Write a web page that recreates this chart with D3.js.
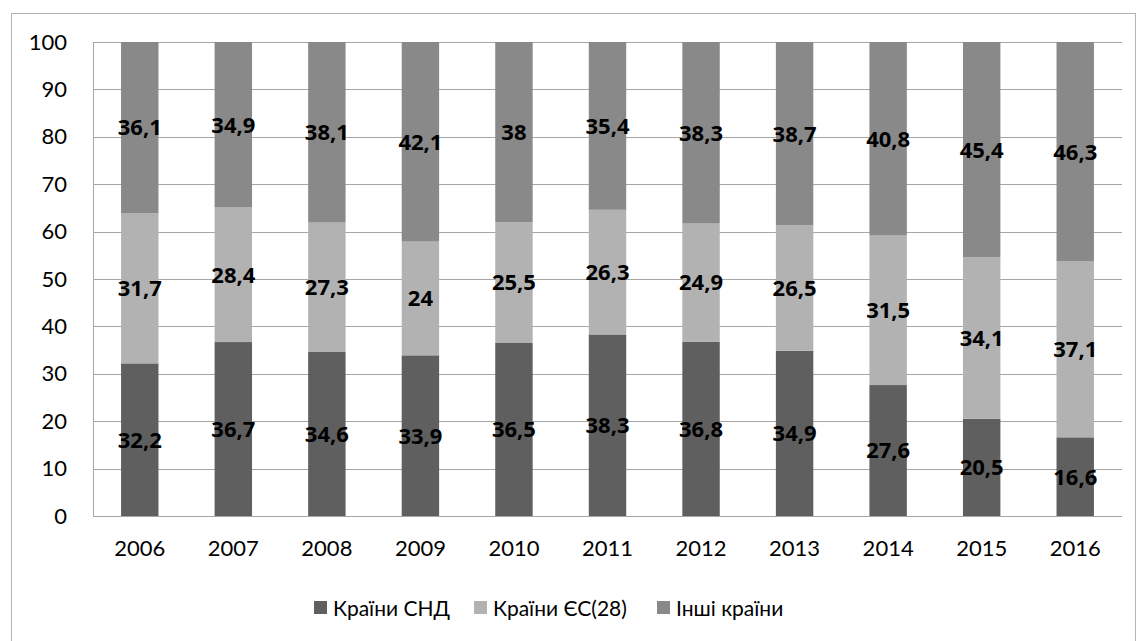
<!DOCTYPE html>
<html>
<head>
<meta charset="utf-8">
<script src="https://cdn.jsdelivr.net/npm/d3@7"></script>
<style>
  body { margin: 0; background: #fff; }
  svg text { font-family: Lato, 'Open Sans', sans-serif; }
</style>
</head>
<body>
<div class="canvas"></div>
<script>
// data
const years = ['2006', '2007', '2008', '2009', '2010', '2011', '2012', '2013', '2014', '2015', '2016']
const cis = [32.2, 36.7, 34.6, 33.9, 36.5, 38.3, 36.8, 34.9, 27.6, 20.5, 16.6]
const eu = [31.7, 28.4, 27.3, 24, 25.5, 26.3, 24.9, 26.5, 31.5, 34.1, 37.1]
const other = [36.1, 34.9, 38.1, 42.1, 38, 35.4, 38.3, 38.7, 40.8, 45.4, 46.3]
const seriesNames = ['Країни СНД', 'Країни ЄС(28)', 'Інші країни']
const yTicks = [0, 10, 20, 30, 40, 50, 60, 70, 80, 90, 100]

const dimension = { width: 1137, height: 641 }
const plot = { left: 93, right: 1122, top: 42, bottom: 516 }

const svg = d3.select('.canvas')
  .append('svg')
  .attr('width', dimension.width)
  .attr('height', dimension.height)

// outer chart border
svg.append('rect')
  .attr('x', 11.5).attr('y', 13.5)
  .attr('width', 1124).attr('height', 640)
  .attr('fill', 'none')
  .attr('stroke', '#b3b3b3')

const rows = years.map((y, i) => ({ year: y, cis: cis[i], eu: eu[i], other: other[i] }))
const keys = ['cis', 'eu', 'other']

const stack = d3.stack()
  .keys(keys)
  .offset(d3.stackOffsetExpand) // 100% stacked

const layers = stack(rows)

const x = d3.scaleBand()
  .domain(years)
  .range([plot.left, plot.right])
  .paddingInner(0.6)
  .paddingOuter(0.3)

const y = d3.scaleLinear()
  .domain([0, 1])
  .range([plot.bottom, plot.top])

const color = d3.scaleOrdinal()
  .domain(keys)
  .range(['#5f5f5f', '#b2b2b2', '#898989'])

// grid lines
svg.append('g')
  .selectAll('line')
  .data(yTicks)
  .enter().append('line')
    .attr('x1', plot.left).attr('x2', plot.right)
    .attr('y1', d => Math.round(y(d / 100)) + 0.5)
    .attr('y2', d => Math.round(y(d / 100)) + 0.5)
    .attr('stroke', '#a6a6a6')

// y axis line
svg.append('line')
  .attr('x1', plot.left + 0.5).attr('x2', plot.left + 0.5)
  .attr('y1', plot.top).attr('y2', plot.bottom)
  .attr('stroke', '#a6a6a6')

// y tick labels
const yAxis = d3.axisLeft(y)
  .tickValues(yTicks.map(d => d / 100))
  .tickFormat(d => Math.round(d * 100))
  .tickSize(0)
  .tickPadding(26)

const yG = svg.append('g')
  .attr('transform', `translate(${plot.left}, 0)`)
  .call(yAxis)
yG.select('.domain').remove()
yG.selectAll('text')
  .attr('font-size', 22)
  .attr('fill', '#000')
  .style('font-family', 'Lato, sans-serif')

// x labels
const xAxis = d3.axisBottom(x).tickSize(0).tickPadding(24)
const xG = svg.append('g')
  .attr('transform', `translate(0, ${plot.bottom})`)
  .call(xAxis)
xG.select('.domain').remove()
xG.selectAll('text')
  .attr('font-size', 22)
  .attr('fill', '#000')
  .style('font-family', 'Lato, sans-serif')

// bars
const groups = svg.append('g')
  .selectAll('g')
  .data(layers)
  .enter().append('g')
    .attr('fill', d => color(d.key))

groups.selectAll('rect')
  .data(d => d)
  .enter().append('rect')
    .attr('x', d => x(d.data.year))
    .attr('width', x.bandwidth())
    .attr('y', d => y(d[1]))
    .attr('height', d => y(d[0]) - y(d[1]))

// value labels
groups.selectAll('text')
  .data(d => d.map(p => ({ p, key: d.key })))
  .enter().append('text')
    .attr('x', d => x(d.p.data.year) + x.bandwidth() / 2)
    .attr('y', d => (y(d.p[0]) + y(d.p[1])) / 2)
    .attr('dy', '0.36em')
    .attr('text-anchor', 'middle')
    .attr('font-size', 22)
    .attr('font-weight', 'bold')
    .style('font-family', "'Open Sans', sans-serif")
    .attr('fill', '#000')
    .text(d => String(d.p.data[d.key]).replace('.', ','))

// legend
const legendItems = [
  { key: 'cis', name: seriesNames[0], x: 314 },
  { key: 'eu', name: seriesNames[1], x: 474 },
  { key: 'other', name: seriesNames[2], x: 657 }
]
const legend = svg.append('g')
  .selectAll('g')
  .data(legendItems)
  .enter().append('g')
    .attr('transform', d => `translate(${d.x}, 608)`)

legend.append('rect')
  .attr('x', 0).attr('y', -7)
  .attr('width', 13).attr('height', 13)
  .attr('fill', d => color(d.key))

legend.append('text')
  .attr('x', 19)
  .attr('dy', '0.36em')
  .attr('font-size', 21)
  .attr('fill', '#000')
  .text(d => d.name)
</script>
</body>
</html>
